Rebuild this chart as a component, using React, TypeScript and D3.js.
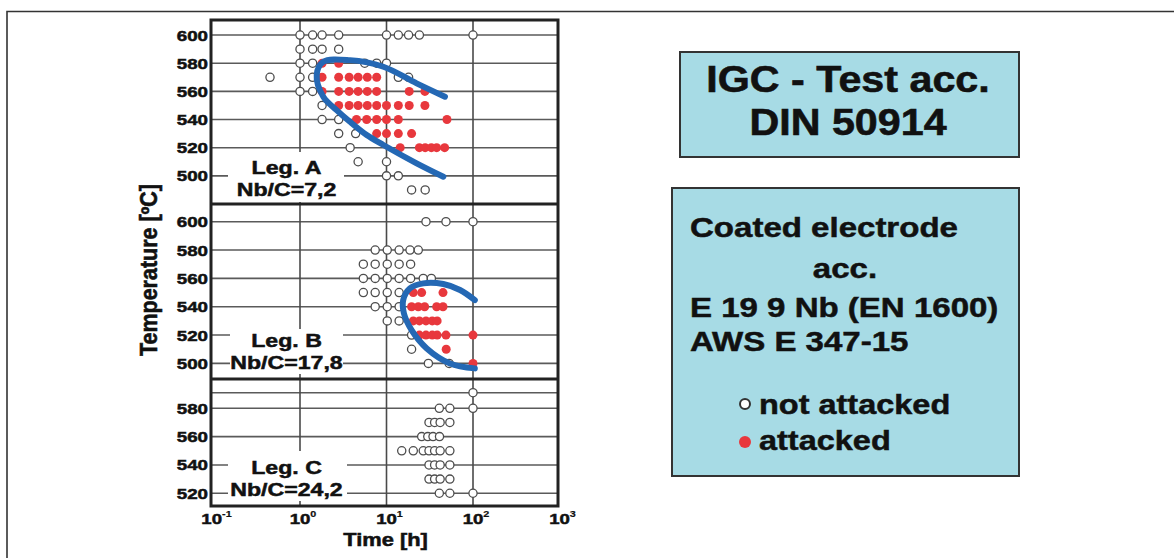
import * as d3 from "d3";

// ---- data: [time h, temperature °C] ----
const legA_notAttacked: [number, number][] = [
  [1, 600], [1.4, 600], [1.8, 600], [2.8, 600], [10, 600], [13.7, 600], [18, 600], [24, 600], [100, 600],
  [1, 590], [1.4, 590], [1.8, 590], [2.8, 590],
  [1, 580], [1.4, 580], [5.6, 580], [7.7, 580], [10, 580],
  [0.45, 570], [1, 570], [1.4, 570], [13.7, 570], [18, 570],
  [1, 560], [1.4, 560],
  [1.8, 550],
  [1.8, 540], [2.8, 540],
  [2.8, 530], [4.4, 530],
  [3.8, 520],
  [4.7, 510], [10, 510],
  [10, 500], [13.7, 500],
  [19.5, 490], [28, 490],
];
const legA_attacked: [number, number][] = [
  [1.8, 580], [2.8, 580],
  [1.8, 570], [2.8, 570], [3.7, 570], [4.7, 570], [6, 570], [7.7, 570],
  [1.8, 560], [2.8, 560], [3.7, 560], [4.7, 560], [6, 560], [7.7, 560], [18.3, 560], [27.8, 560],
  [2.8, 550], [3.7, 550], [4.7, 550], [6, 550], [7.7, 550], [10, 550], [13.7, 550], [18.3, 550], [27.8, 550],
  [4.5, 540], [5.9, 540], [7.7, 540], [10, 540], [13.7, 540], [50, 540],
  [7.7, 530], [10, 530], [13.7, 530], [19.5, 530],
  [14.4, 520], [24, 520], [28, 520], [33, 520], [38, 520], [47, 520],
];
const legA_curve: [number, number][] = [
  [47.4, 556.2], [22.3, 565.7], [9.2, 577.5], [3.78, 582.2], [1.86, 581], [1.56, 571.6],
  [1.86, 556.2], [2.65, 546.7], [3.78, 538.4], [5.9, 529], [9.2, 521.9], [22.3, 508.9], [45.4, 499.4],
];

const legB_notAttacked: [number, number][] = [
  [28.6, 600], [48.7, 600], [100, 600],
  [7.4, 580], [10.2, 580], [14, 580], [18.7, 580], [23.3, 580],
  [5.4, 570], [7.4, 570], [10.2, 570], [14, 570], [19, 570],
  [5.4, 560], [7.4, 560], [10.2, 560], [14, 560], [19, 560], [26.6, 560], [33, 560],
  [5.4, 550], [7.4, 550], [10.2, 550], [14, 550],
  [7.4, 540], [10.2, 540], [14, 540],
  [10.2, 530], [14, 530],
  [19.5, 520],
  [19.5, 510],
  [30.5, 500], [53, 500],
];
const legB_attacked: [number, number][] = [
  [20.4, 550], [25.5, 550], [45, 550],
  [19.5, 540], [23.3, 540], [27.6, 540], [38, 540], [45, 540],
  [20.4, 530], [24, 530], [28.6, 530], [33.8, 530], [38.5, 530],
  [24, 520], [28.6, 520], [33.8, 520], [38.5, 520], [48.7, 520], [100, 520],
  [49, 510],
  [100, 500],
];
const legB_curve: [number, number][] = [
  [105, 544.7], [70.8, 551.8], [45.4, 556], [26.6, 556.5], [18.7, 553], [15.6, 544.7],
  [15.9, 535.3], [19.5, 523.5], [29.2, 510.6], [54.2, 500], [105, 496.5],
];

const legC_notAttacked: [number, number][] = [
  [100, 591],
  [40.8, 580], [54, 580], [100, 580],
  [31, 570], [36, 570], [41.7, 570], [54, 570],
  [25.5, 560], [30, 560], [34.5, 560], [41, 560],
  [15, 550], [20.4, 550], [26.6, 550], [31, 550], [36, 550], [41.7, 550], [54, 550],
  [31, 540], [36, 540], [41.7, 540], [54, 540],
  [31, 530], [36, 530], [41.7, 530], [54, 530],
  [40.8, 520], [54, 520], [100, 520],
];

const ticksAB = [600, 580, 560, 540, 520, 500];
const ticksC = [580, 560, 540, 520];
const gridC = [591, 580, 560, 540, 520];
const timeTicks = [0.1, 1, 10, 100, 1000];
const timeExps = ["-1", "0", "1", "2", "3"];
const verticalGrid = [1, 10, 100];

const FONT = "'Liberation Sans', Arial, Helvetica, sans-serif";
const RED = "#e8383d";
const BLUE = "#2468b4";
const BOX = "#a7dbe5";

const L = 211, R = 558;
const x = d3.scaleLog().domain([0.1, 1000]).range([213.5, 559.5]);

const panels = [
  {
    key: "A", top: 20, bottom: 204, dom: [480, 610.7], ticks: ticksAB, grid: ticksAB,
    open: legA_notAttacked, red: legA_attacked, curve: legA_curve,
    label: ["Leg. A", "Nb/C=7,2"], labelY: [174, 196], mask: [228, 152, 116, 50],
  },
  {
    key: "B", top: 204, bottom: 379, dom: [489, 612.5], ticks: ticksAB, grid: ticksAB,
    open: legB_notAttacked, red: legB_attacked, curve: legB_curve,
    label: ["Leg. B", "Nb/C=17,8"], labelY: [347, 369], mask: [230, 329, 113, 45],
  },
  {
    key: "C", top: 379, bottom: 506, dom: [511, 600.7], ticks: ticksC, grid: gridC,
    open: legC_notAttacked, red: [] as [number, number][], curve: null as [number, number][] | null,
    label: ["Leg. C", "Nb/C=24,2"], labelY: [473.5, 496], mask: [228, 451, 119, 50],
  },
];

function Txt({ x, y, size, sx = 1, anchor = "start", heavy = 0.5, children }: any) {
  return (
    <text
      transform={`translate(${x},${y}) scale(${sx},1)`}
      fontSize={size}
      fontFamily={FONT}
      fontWeight="bold"
      textAnchor={anchor}
      fill="#111"
      stroke="#111"
      strokeWidth={heavy}
    >
      {children}
    </text>
  );
}

export default function App() {
  return (
    <svg
      width={1174}
      height={558}
      style={{ position: "absolute", left: 0, top: 0, background: "#fff" }}
    >
      <path d="M7,558 V11.5 H1174" fill="none" stroke="#333" strokeWidth={1.6} />

      {panels.map((p) => {
        const y = d3.scaleLinear().domain(p.dom).range([p.bottom, p.top]);
        const line = d3
          .line<[number, number]>()
          .x((d) => x(d[0]))
          .y((d) => y(d[1]))
          .curve(d3.curveCatmullRom.alpha(0.5));
        return (
          <g key={p.key}>
            {p.grid.map((t) => (
              <line key={t} x1={L} x2={R} y1={y(t)} y2={y(t)} stroke="#5a5a5a" strokeWidth={1.6} />
            ))}
            {verticalGrid.map((t) => (
              <line key={t} x1={x(t)} x2={x(t)} y1={p.top} y2={p.bottom} stroke="#4a4a4a" strokeWidth={1.6} />
            ))}
            <rect x={p.mask[0]} y={p.mask[1]} width={p.mask[2]} height={p.mask[3]} fill="#fff" />
            <Txt x={286.5} y={p.labelY[0]} size={18.5} sx={1.25} anchor="middle">{p.label[0]}</Txt>
            <Txt x={286.5} y={p.labelY[1]} size={18.5} sx={1.25} anchor="middle">{p.label[1]}</Txt>
            {p.ticks.map((t) => (
              <Txt key={t} x={208} y={y(t) + 5.5} size={15} sx={1.25} anchor="end">{t}</Txt>
            ))}
            {p.open.map((d, i) => (
              <circle key={"o" + i} cx={x(d[0])} cy={y(d[1])} r={4.1} fill="#fff" stroke="#4d4d4d" strokeWidth={1.3} />
            ))}
            {p.red.map((d, i) => (
              <circle key={"r" + i} cx={x(d[0])} cy={y(d[1])} r={4.5} fill={RED} />
            ))}
            {p.curve && (
              <path d={line(p.curve) || ""} fill="none" stroke={BLUE} strokeWidth={6} strokeLinecap="round" />
            )}
          </g>
        );
      })}

      {/* frame and panel dividers */}
      <rect x={L} y={20} width={R - L} height={486} fill="none" stroke="#222" strokeWidth={3} />
      <line x1={L} x2={R} y1={204} y2={204} stroke="#222" strokeWidth={3} />
      <line x1={L} x2={R} y1={379} y2={379} stroke="#222" strokeWidth={3} />

      {/* x axis */}
      {timeTicks.map((t, i) => (
        <text
          key={t}
          transform={`translate(${x(t) + 3},524) scale(1.2,1)`}
          fontSize={15.5}
          fontFamily={FONT}
          fontWeight="bold"
          textAnchor="middle"
          fill="#111"
          stroke="#111"
          strokeWidth={0.5}
        >
          10
          <tspan dy={-7} fontSize={9} strokeWidth={0.2}>{timeExps[i]}</tspan>
        </text>
      ))}
      <Txt x={385.5} y={546} size={17.5} sx={1.25} anchor="middle">Time [h]</Txt>
      <text
        transform="translate(157,270) scale(1.18,1) rotate(-90)"
        fontSize={19.5}
        fontFamily={FONT}
        fontWeight="bold"
        textAnchor="middle"
        fill="#111"
        stroke="#111"
        strokeWidth={0.5}
        textLength={172}
        lengthAdjust="spacingAndGlyphs"
      >
        Temperature [ºC]
      </text>

      {/* info boxes */}
      <rect x={680} y={52} width={339} height={105} fill={BOX} stroke="#333" strokeWidth={2} />
      <Txt x={848} y={92} size={37} sx={1.115} anchor="middle" heavy={0.6}>IGC - Test acc.</Txt>
      <Txt x={848} y={135} size={37} sx={1.115} anchor="middle" heavy={0.6}>DIN 50914</Txt>

      <rect x={672} y={188} width={347} height={288} fill={BOX} stroke="#333" strokeWidth={2} />
      <Txt x={690} y={237} size={28} sx={1.18}>Coated electrode</Txt>
      <Txt x={845} y={278} size={28} sx={1.18} anchor="middle">acc.</Txt>
      <Txt x={690} y={317} size={28} sx={1.18}>E 19 9 Nb (EN 1600)</Txt>
      <Txt x={690} y={351} size={28} sx={1.18}>AWS E 347-15</Txt>
      <circle cx={745} cy={404} r={5} fill="#fff" stroke="#333" strokeWidth={2} />
      <Txt x={759} y={414} size={28} sx={1.16}>not attacked</Txt>
      <circle cx={745} cy={442} r={6} fill={RED} />
      <Txt x={759} y={450} size={28} sx={1.16}>attacked</Txt>
    </svg>
  );
}
